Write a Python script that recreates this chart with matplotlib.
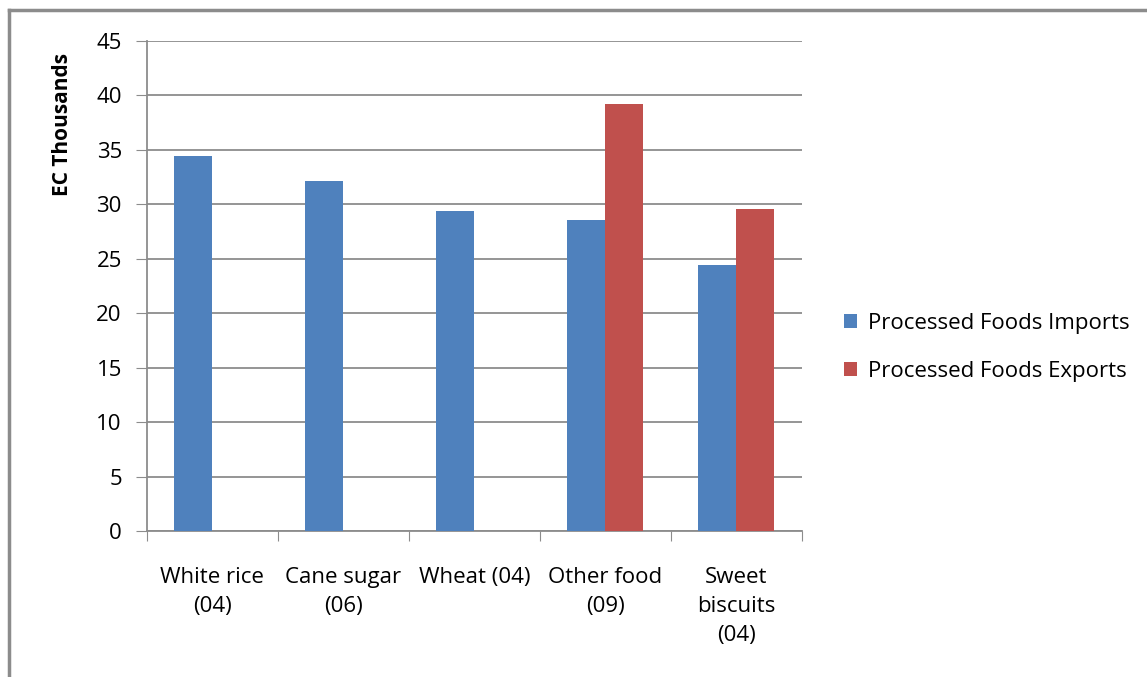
import matplotlib
matplotlib.use("Agg")
import matplotlib.pyplot as plt
from matplotlib.lines import Line2D
import numpy as np

# data
categories = ["White rice\n(04)", "Cane sugar\n(06)", "Wheat (04)", "Other food\n(09)", "Sweet\nbiscuits\n(04)"]
imports = [34.4, 32.1, 29.4, 28.6, 24.4]
exports = [0, 0, 0, 39.2, 29.6]
series_names = ["Processed Foods Imports", "Processed Foods Exports"]

plt.rcParams['font.family'] = ['Open Sans', 'DejaVu Sans']

fig = plt.figure(figsize=(11.47, 6.77), dpi=100)
ax = fig.add_axes([0.128, 0.2157, 0.571, 0.7237])

x = np.arange(len(categories)) + 0.5
w = 0.29
ax.bar(x - w / 2, imports, width=w, color="#4F81BD", label=series_names[0], zorder=3)
ax.bar(x + w / 2, exports, width=w, color="#C0504D", label=series_names[1], zorder=3)

ax.set_xlim(0, len(categories))
ax.set_ylim(0, 45)
ax.set_yticks(range(0, 50, 5))
ax.yaxis.grid(True, color="#8c8c8c", linewidth=1.3, zorder=0)

# ticks between categories
ax.set_xticks(range(len(categories) + 1))
ax.set_xticklabels([])
ax.set_xticks(x, minor=True)
ax.set_xticklabels(categories, minor=True, fontsize=16, linespacing=1.5)
ax.tick_params(axis="x", which="minor", length=0, pad=26)
ax.tick_params(axis="x", which="major", length=7, color="#8c8c8c", direction="out")
ax.tick_params(axis="y", length=8, color="#8c8c8c", labelsize=16, pad=10)

for s in ["top", "right"]:
    ax.spines[s].set_visible(False)
for s in ["left", "bottom"]:
    ax.spines[s].set_color("#8c8c8c")
    ax.spines[s].set_linewidth(1.3)

fig.text(62 / 1147, 1 - 124 / 677, "EC Thousands", rotation=90, fontsize=15,
         fontweight="bold", ha="center", va="center")

ax.legend(loc="center left", bbox_to_anchor=(0.718, 0.487), bbox_transform=fig.transFigure,
          frameon=False, fontsize=16, handlelength=0.6, handleheight=0.6,
          handletextpad=0.5, labelspacing=1.2)

# outer frame of the chart area
fig.add_artist(Line2D([9 / 1147, 9 / 1147], [0, 1 - 10 / 677], color="#8c8c8c", linewidth=2.5))
fig.add_artist(Line2D([9 / 1147, 1], [1 - 10 / 677, 1 - 10 / 677], color="#8c8c8c", linewidth=2.5))

fig.savefig("out.png", dpi=100)
